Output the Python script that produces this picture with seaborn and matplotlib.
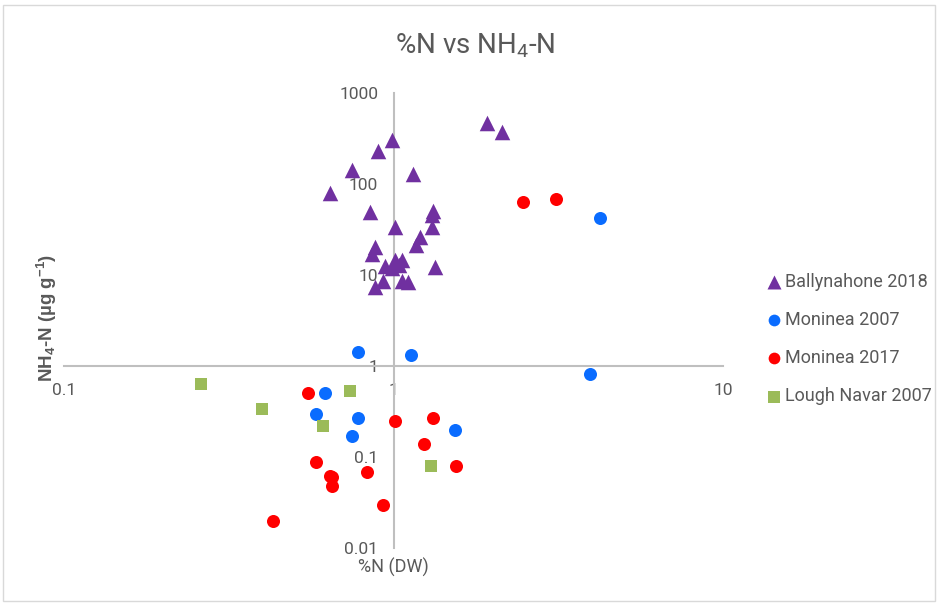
import matplotlib
matplotlib.use("Agg")
import matplotlib.pyplot as plt
from matplotlib.patches import Rectangle
from matplotlib.ticker import FixedLocator, FuncFormatter, NullLocator
import seaborn as sns
import pandas as pd

# %N (dry weight) and NH4-N (µg g-1) per site
ballynahone_n = [1.92, 2.13, 0.99, 0.90, 0.75, 1.15, 0.64, 0.85, 1.32, 1.31,
                 1.01, 1.31, 1.20, 1.17, 0.88, 0.86, 1.34, 0.94, 1.01, 1.06,
                 0.99, 1.04, 0.93, 0.88, 1.06, 1.11]
ballynahone_nh4 = [473, 377, 308, 233, 144, 130, 81, 50, 51, 46,
                   34, 34, 26.5, 21.7, 20.6, 17.3, 12.4, 12.7, 14.8, 14.8,
                   12.1, 13.1, 8.7, 7.5, 8.7, 8.5]

moninea07_n = [4.22, 0.78, 1.13, 3.96, 0.62, 0.58, 0.78, 0.75, 1.54]
moninea07_nh4 = [42.9, 1.45, 1.34, 0.83, 0.51, 0.30, 0.27, 0.17, 0.20]

moninea17_n = [2.48, 3.12, 0.55, 1.01, 1.32, 1.24, 1.55, 0.58, 0.83, 0.64,
               0.65, 0.65, 0.93, 0.43]
moninea17_nh4 = [64, 69, 0.51, 0.25, 0.27, 0.14, 0.079, 0.088, 0.068, 0.062,
                 0.060, 0.048, 0.030, 0.020]

lough_n = [0.26, 0.40, 0.74, 0.61, 1.30]
lough_nh4 = [0.63, 0.335, 0.53, 0.22, 0.079]

series_names = ["Ballynahone 2018", "Moninea 2007", "Moninea 2017", "Lough Navar 2007"]
x_ticks = [0.1, 1, 10]
y_ticks = [0.01, 0.1, 1, 10, 100, 1000]

frames = []
for name, xs, ys in zip(series_names,
                        [ballynahone_n, moninea07_n, moninea17_n, lough_n],
                        [ballynahone_nh4, moninea07_nh4, moninea17_nh4, lough_nh4]):
    frames.append(pd.DataFrame({"pctN": xs, "nh4": ys, "site": name}))
df = pd.concat(frames, ignore_index=True)

sns.set_style("white")
plt.rcParams["font.family"] = ["Roboto", "DejaVu Sans"]
plt.rcParams["mathtext.default"] = "regular"

TEXT = "#595959"
AXIS = "#BFBFBF"
styles = {
    "Ballynahone 2018": dict(color="#7030A0", marker="^", s=125),
    "Moninea 2007": dict(color="#0A6CFF", marker="o", s=88),
    "Moninea 2017": dict(color="#FF0000", marker="o", s=88),
    "Lough Navar 2007": dict(color="#9BBB59", marker="s", s=78),
}

W, H = 939, 605
fig = plt.figure(figsize=(W / 100, H / 100), dpi=100)
ax = fig.add_axes([64 / W, 1 - 548 / H, 659 / W, 454.5 / H])

for name in series_names:
    st = styles[name]
    sns.scatterplot(data=df[df["site"] == name], x="pctN", y="nh4", ax=ax,
                    color=st["color"], marker=st["marker"], s=st["s"],
                    linewidth=0, label=name, legend=False, zorder=3)

ax.set_xscale("log")
ax.set_yscale("log")
ax.set_xlim(0.1, 10)
ax.set_ylim(0.01, 1000)

# axes cross at (1, 1)
for side in ("top", "right"):
    ax.spines[side].set_visible(False)
ax.spines["left"].set_position(("data", 1))
ax.spines["bottom"].set_position(("data", 1))
for side in ("left", "bottom"):
    ax.spines[side].set_color(AXIS)
    ax.spines[side].set_linewidth(1.5)
    ax.spines[side].set_zorder(1)

fmt = FuncFormatter(lambda v, p: f"{v:g}")
ax.xaxis.set_major_locator(FixedLocator(x_ticks))
ax.yaxis.set_major_locator(FixedLocator(y_ticks))
ax.xaxis.set_minor_locator(NullLocator())
ax.yaxis.set_minor_locator(NullLocator())
ax.xaxis.set_major_formatter(fmt)
ax.yaxis.set_major_formatter(fmt)
ax.tick_params(axis="x", length=0, pad=12, labelsize=12.5, labelcolor=TEXT)
ax.tick_params(axis="y", length=0, pad=11, labelsize=12.5, labelcolor=TEXT)
ax.set_xlabel("")
ax.set_ylabel("")
ax.patch.set_alpha(0)

fig.text(475 / W, 1 - 46 / H, "%N vs NH$_4$-N", ha="center", va="center",
         fontsize=20, color=TEXT)
fig.text(393 / W, 1 - 567 / H, "%N (DW)", ha="center", va="center",
         fontsize=13, color=TEXT)
fig.text(47 / W, 1 - 318 / H, "NH$_4$-N (µg g$^{-1}$)", ha="center", va="center",
         rotation=90, fontsize=13.5, fontweight="semibold", color=TEXT,
         family=["Liberation Sans", "DejaVu Sans"])

handles, labels = ax.get_legend_handles_labels()
fig.legend(handles, labels, loc="center left", bbox_to_anchor=(767 / W, 1 - 339 / H),
           frameon=False, fontsize=13, labelcolor=TEXT, labelspacing=1.12,
           handlelength=0.8, handletextpad=0.2, borderpad=0, borderaxespad=0,
           markerscale=0.9)

fig.patches.append(Rectangle((3 / W, 1 - 601 / H), 932 / W, 596 / H,
                             transform=fig.transFigure, fill=False,
                             edgecolor="#D9D9D9", linewidth=1))

fig.savefig("out.png", dpi=100)
